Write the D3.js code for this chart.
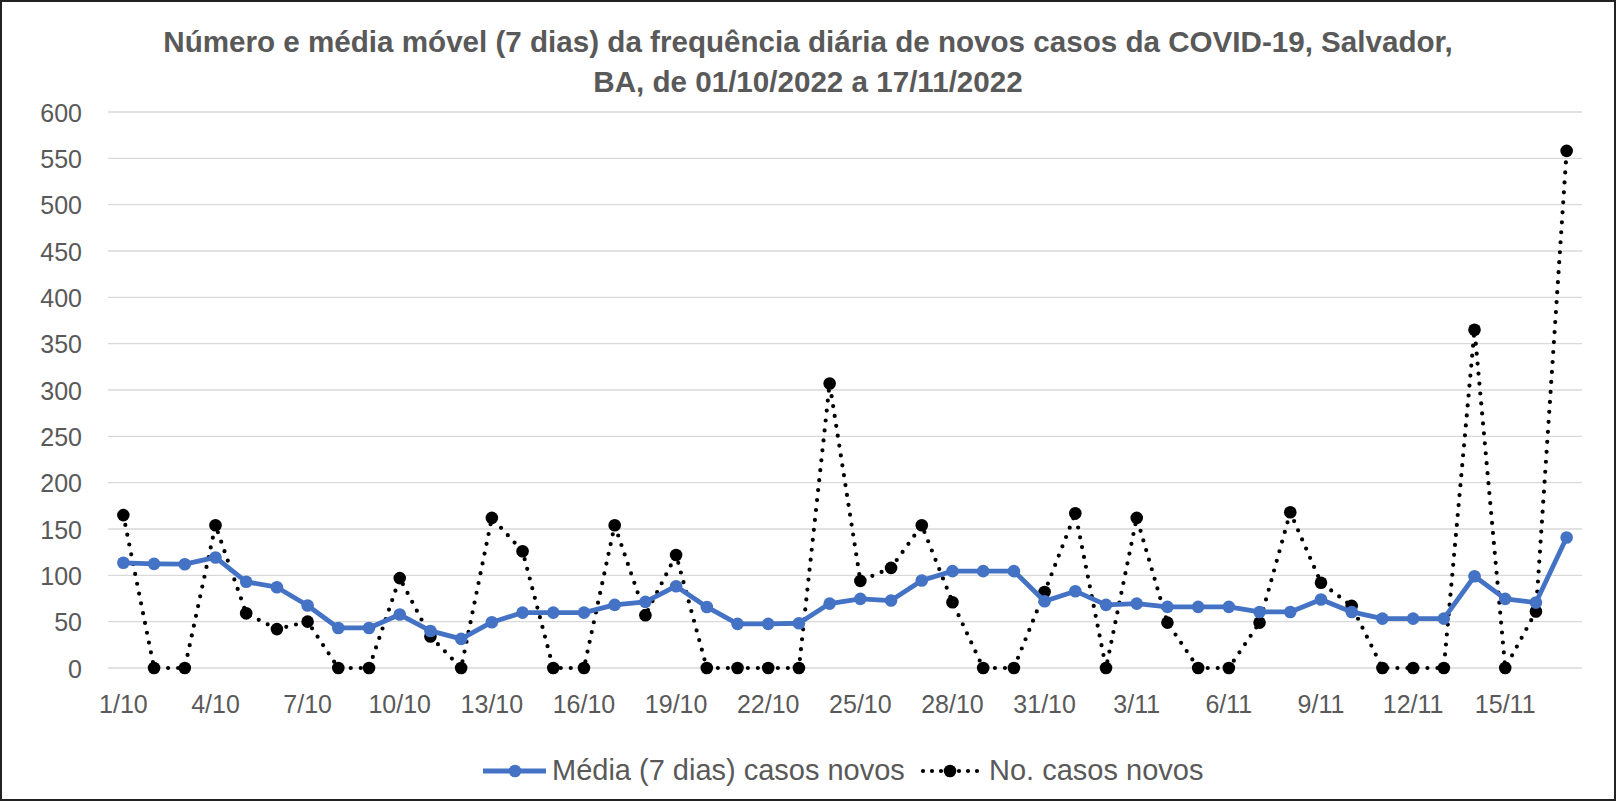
<!DOCTYPE html>
<html>
<head>
<meta charset="utf-8">
<script src="https://cdn.jsdelivr.net/npm/d3@7"></script>
<style>
  body { margin: 0; background: #fff; }
  text { font-family: "Liberation Sans", Arial, sans-serif; }
</style>
</head>
<body>
<svg id="chart" width="1616" height="801"></svg>
<script>
// Datas (dia/mês)
var dias = ["1/10","2/10","3/10","4/10","5/10","6/10","7/10","8/10","9/10","10/10",
  "11/10","12/10","13/10","14/10","15/10","16/10","17/10","18/10","19/10","20/10",
  "21/10","22/10","23/10","24/10","25/10","26/10","27/10","28/10","29/10","30/10",
  "31/10","1/11","2/11","3/11","4/11","5/11","6/11","7/11","8/11","9/11",
  "10/11","11/11","12/11","13/11","14/11","15/11","16/11","17/11"];

// No. casos novos
var casos = [165, 0, 0, 154, 59, 42, 50, 0, 0, 97,
  34, 0, 162, 126, 0, 0, 154, 57, 122, 0,
  0, 0, 0, 307, 94, 108, 154, 71, 0, 0,
  82, 167, 0, 162, 49, 0, 0, 49, 168, 92,
  67, 0, 0, 0, 365, 0, 61, 558];

// Média móvel (7 dias)
var media = [113.5, 112.4, 112, 119.3, 93, 87.2, 67.4, 43.2, 43.2, 57.7,
  40, 31.4, 49.4, 59.8, 59.8, 59.8, 68.1, 71.4, 88.3, 65.9,
  47.6, 47.6, 48.3, 69.5, 74.6, 72.8, 94.4, 104.5, 104.5, 104.5,
  72, 82.9, 68.1, 69.5, 66, 66, 66, 60.5, 60.5, 73.9,
  60.5, 53.3, 53.3, 53.3, 99, 74.6, 70.6, 140.9];

var yTicks = d3.range(0, 601, 50);

var titulo = ["Número e média móvel (7 dias) da frequência diária de novos casos da COVID-19, Salvador,",
  "BA, de 01/10/2022 a 17/11/2022"];
var legendas = ["Média (7 dias) casos novos", "No. casos novos"];

var svg = d3.select("#chart"),
    width = +svg.attr("width"),
    height = +svg.attr("height");

var margin = {top: 112, right: 34, bottom: 133, left: 108};

// fundo e borda
svg.append("rect").attr("x", 1).attr("y", 1)
    .attr("width", width - 2).attr("height", height - 2)
    .attr("fill", "#fff").attr("stroke", "#222").attr("stroke-width", 2);

var x = d3.scaleBand()
    .domain(dias)
    .range([margin.left, width - margin.right]);

var y = d3.scaleLinear()
    .domain([0, 600])
    .range([height - margin.bottom, margin.top]);

function cx(d, i) { return x(dias[i]) + x.bandwidth() / 2; }

// linhas de grade
svg.append("g")
    .selectAll("line")
    .data(yTicks)
    .enter()
    .append("line")
    .attr("x1", margin.left).attr("x2", width - margin.right)
    .attr("y1", function (d) { return y(d); })
    .attr("y2", function (d) { return y(d); })
    .attr("stroke", "#d9d9d9").attr("stroke-width", 1.4);

// eixo y
var yAxis = svg.append("g")
    .attr("transform", "translate(" + margin.left + ",0)")
    .call(d3.axisLeft(y).tickValues(yTicks).tickSize(0).tickPadding(26));
yAxis.select(".domain").remove();
yAxis.selectAll("text")
    .attr("fill", "#595959")
    .style("font-size", "25px")
    .attr("dy", "0.36em");

// eixo x
var xAxis = svg.append("g")
    .attr("transform", "translate(0," + (height - margin.bottom) + ")")
    .call(d3.axisBottom(x)
        .tickValues(dias.filter(function (d, i) { return i % 3 === 0; }))
        .tickSize(0).tickPadding(27));
xAxis.select(".domain").remove();
xAxis.selectAll("text")
    .attr("fill", "#595959")
    .style("font-size", "25px");

// série: No. casos novos (pontilhada)
var linha = d3.line()
    .x(cx)
    .y(function (d) { return y(d); });

svg.append("path")
    .datum(casos)
    .attr("d", linha)
    .attr("fill", "none")
    .attr("stroke", "#000")
    .attr("stroke-width", 4.2)
    .attr("stroke-linecap", "round")
    .attr("stroke-dasharray", "0 10");

svg.append("g")
    .selectAll("circle")
    .data(casos)
    .enter()
    .append("circle")
    .attr("cx", cx)
    .attr("cy", function (d) { return y(d); })
    .attr("r", 6.3)
    .attr("fill", "#000");

// série: média móvel
svg.append("path")
    .datum(media)
    .attr("d", linha)
    .attr("fill", "none")
    .attr("stroke", "#4472c4")
    .attr("stroke-width", 4.8)
    .attr("stroke-linejoin", "round");

svg.append("g")
    .selectAll("circle")
    .data(media)
    .enter()
    .append("circle")
    .attr("cx", cx)
    .attr("cy", function (d) { return y(d); })
    .attr("r", 6.3)
    .attr("fill", "#4472c4");

// ajusta tamanho da fonte para caber na largura desejada
function fit(sel, target) {
    var w = sel.node().getComputedTextLength();
    var fs = parseFloat(sel.style("font-size"));
    sel.style("font-size", (fs * target / w) + "px");
}

// título
var t1 = svg.append("text")
    .attr("x", 808).attr("y", 52)
    .attr("text-anchor", "middle")
    .attr("fill", "#595959")
    .style("font-weight", "bold")
    .style("font-size", "22px")
    .text(titulo[0]);
fit(t1, 1290);
var fsT = t1.style("font-size");
svg.append("text")
    .attr("x", 808).attr("y", 92)
    .attr("text-anchor", "middle")
    .attr("fill", "#595959")
    .style("font-weight", "bold")
    .style("font-size", fsT)
    .text(titulo[1]);

// legenda
var leg = svg.append("g");
leg.append("line")
    .attr("x1", 483).attr("x2", 546).attr("y1", 771).attr("y2", 771)
    .attr("stroke", "#4472c4").attr("stroke-width", 4.8);
leg.append("circle").attr("cx", 515).attr("cy", 771).attr("r", 6.3).attr("fill", "#4472c4");
var l1 = leg.append("text")
    .attr("x", 552).attr("y", 780)
    .attr("fill", "#595959")
    .style("font-family", "'Liberation Sans Narrow', Arial, sans-serif")
    .style("font-size", "28px")
    .text(legendas[0]);
fit(l1, 353);

leg.append("line")
    .attr("x1", 923).attr("x2", 980).attr("y1", 771).attr("y2", 771)
    .attr("stroke", "#000").attr("stroke-width", 4.2)
    .attr("stroke-linecap", "round").attr("stroke-dasharray", "0 9");
leg.append("circle").attr("cx", 950).attr("cy", 771).attr("r", 6.3).attr("fill", "#000");
leg.append("text")
    .attr("x", 989).attr("y", 780)
    .attr("fill", "#595959")
    .style("font-family", "'Liberation Sans Narrow', Arial, sans-serif")
    .style("font-size", l1.style("font-size"))
    .text(legendas[1]);
</script>
</body>
</html>
